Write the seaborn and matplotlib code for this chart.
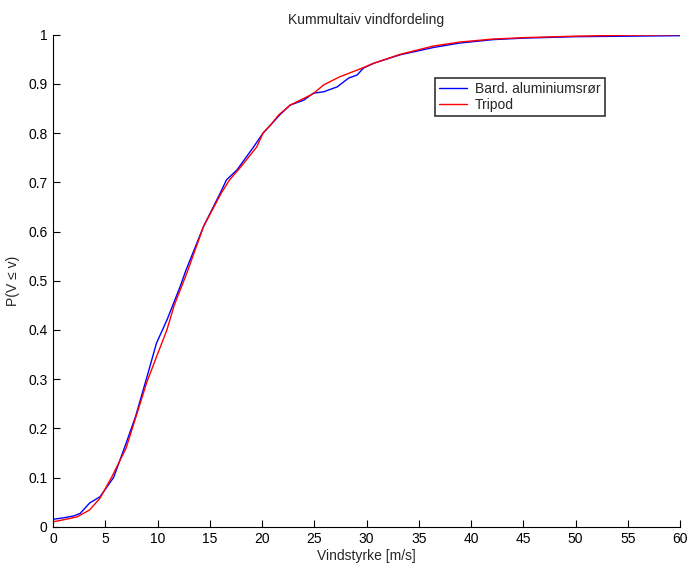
import matplotlib
matplotlib.use("Agg")
import matplotlib.pyplot as plt
import seaborn as sns
import pandas as pd

# Data
blue_label = "Bard. aluminiumsrør"
red_label = "Tripod"

blue_v = [0, 1, 2, 2.6, 3.5, 4.5, 5.8, 7.0, 7.9, 9.0, 9.9, 10.9, 11.5, 12.2, 12.7,
          14.4, 16.0, 16.6, 17.6, 19.2, 20.1, 20.8, 21.7, 22.7, 24.0, 24.9, 25.9,
          27.2, 28.3, 29.1, 29.7, 30.7, 33.2, 36.4, 38.9, 42.1, 45, 50, 55, 60]
blue_p = [0.015, 0.018, 0.022, 0.027, 0.048, 0.061, 0.10, 0.17, 0.224, 0.305, 0.373,
          0.42, 0.452, 0.49, 0.52, 0.61, 0.678, 0.705, 0.725, 0.772, 0.80, 0.816,
          0.837, 0.857, 0.867, 0.881, 0.884, 0.894, 0.912, 0.918, 0.932, 0.942,
          0.959, 0.974, 0.983, 0.990, 0.993, 0.996, 0.997, 0.998]

red_v = [0, 1, 2.3, 3.5, 4.5, 5.6, 7.0, 9.0, 9.9, 10.9, 11.6, 12.3, 12.8, 14.4, 16.1,
         16.9, 18.0, 19.5, 20.1, 20.8, 21.6, 22.7, 24.9, 25.9, 27.5, 29.1, 30.7,
         33.2, 36.4, 38.9, 42, 45, 50, 55, 60]
red_p = [0.010, 0.014, 0.02, 0.034, 0.058, 0.10, 0.16, 0.295, 0.345, 0.40, 0.45,
         0.488, 0.515, 0.61, 0.678, 0.705, 0.732, 0.772, 0.80, 0.816, 0.837, 0.857,
         0.88, 0.898, 0.915, 0.928, 0.942, 0.960, 0.977, 0.985, 0.991, 0.994, 0.997,
         0.999, 1.0]

x_ticks = list(range(0, 61, 5))
y_ticks = [0, 0.1, 0.2, 0.3, 0.4, 0.5, 0.6, 0.7, 0.8, 0.9, 1]
y_ticklabels = ["0", "0.1", "0.2", "0.3", "0.4", "0.5", "0.6", "0.7", "0.8", "0.9", "1"]

sns.set_style("white")
plt.rcParams['font.family'] = ['Liberation Sans', 'DejaVu Sans']
plt.rcParams['font.size'] = 10

df = pd.concat([
    pd.DataFrame({"v": blue_v, "p": blue_p, "serie": blue_label}),
    pd.DataFrame({"v": red_v, "p": red_p, "serie": red_label}),
], ignore_index=True)

fig = plt.figure(figsize=(6.88, 5.67), dpi=100)
ax = fig.add_axes([53/688, (567-526.7)/567, (680-53)/688, (526.7-34.7)/567])

sns.lineplot(data=df, x="v", y="p", hue="serie",
             palette={blue_label: "#0000ff", red_label: "#ff0000"},
             linewidth=1.0, ax=ax, sort=False, estimator=None)

ax.set_xlim(0, 60)
ax.set_ylim(0, 1)
ax.set_xticks(x_ticks)
ax.set_xticklabels([str(t) for t in x_ticks])
ax.set_yticks(y_ticks)
ax.set_yticklabels(y_ticklabels)
ax.tick_params(direction="in", length=5, width=0.8, colors="black",
               labelsize=10, top=False, right=False, left=True, bottom=True, pad=4)
for s in ["top", "right"]:
    ax.spines[s].set_visible(False)
for s in ["left", "bottom"]:
    ax.spines[s].set_color("black")
    ax.spines[s].set_linewidth(0.8)

ax.set_xlabel("Vindstyrke [m/s]", fontsize=10, labelpad=2)
ax.set_ylabel("P(V ≤ v)", fontsize=10, labelpad=6)
ax.set_title("Kummultaiv vindfordeling", fontsize=10, pad=8)

leg = ax.legend(loc="upper left", bbox_to_anchor=(0.609, 0.912), frameon=True,
                fancybox=False, edgecolor="black", fontsize=10, handlelength=2.0,
                borderpad=0.3, labelspacing=0.1, handletextpad=0.6, borderaxespad=0)
leg.get_frame().set_linewidth(1.2)
leg.set_title(None)

fig.savefig("out.png", dpi=100, facecolor="white")
